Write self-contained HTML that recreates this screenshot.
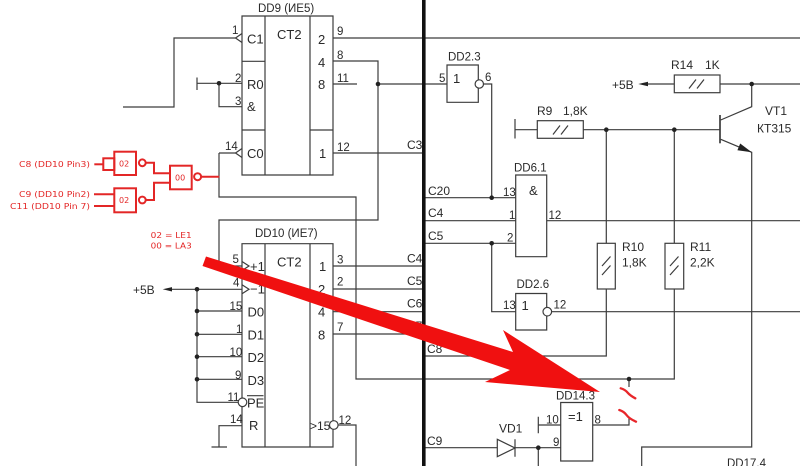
<!DOCTYPE html>
<html><head><meta charset="utf-8"><style>
html,body{margin:0;padding:0;background:#fff;}
svg{display:block;}
text{font-family:"Liberation Sans",sans-serif;fill:#2a2a2a;}
.p{font-size:11.5px;}
.l{font-size:12px;}
.i{font-size:13px;}
.r{font-family:"DejaVu Sans","Liberation Sans",sans-serif;font-size:8px;fill:#e32626;}
</style></head><body>
<svg width="800" height="466" viewBox="0 0 800 466" xmlns="http://www.w3.org/2000/svg">
<rect width="800" height="466" fill="#fff"/>
<g stroke="#3c3c3c" stroke-width="1.2" fill="none">
<!-- DD9 -->
<path d="M242,16H333V175H242Z M265,16V175 M310,16V175 M242,61.3H265 M242,130H265 M310,130H333"/>
<path d="M123,107H174V38H235.5 M235.5,38L242,33.5 M235.5,38L242,42.5"/>
<path d="M197,77.5V90 M197,83.3H242 M219,83.3V106.7H242"/>
<path d="M219,153H235.5 M235.5,153L242,148.5 M235.5,153L242,157.5"/>
<path d="M219,153V197H356V379H674.3V289"/>
<path d="M333,38H800"/>
<path d="M333,61H378V220H219V266H242"/>
<path d="M333,84H357 M378,84H447"/>
<path d="M333,153H422"/>
<!-- DD2.3 -->
<path d="M447,65H478.3V102.3H447Z"/>
<path d="M483.5,84H491.7V197.7"/>
<!-- DD6.1 -->
<path d="M515.7,175H546.7V256.7H515.7Z"/>
<path d="M425,197.7H515.7 M425,220.7H515.7 M546.7,220.7H800 M425,243.3H515.7 M491.7,243.3V311.7H515.7"/>
<!-- DD2.6 -->
<path d="M515.7,293.5H546.7V330H515.7Z"/>
<path d="M551.6,311.7H800"/>
<!-- R9 -->
<path d="M515,119V138.5 M515,129.7H537.3 M583.3,129.7H720"/>
<rect x="537.3" y="120.7" width="46" height="17.6"/>
<path d="M553,134.5L560,125.5 M561,134.5L568,125.5"/>
<!-- R14 -->
<path d="M645,84H674.3 M720,84H800"/>
<rect x="674.3" y="75" width="45.7" height="17.7"/>
<path d="M689,88.5L696,79.5 M697,88.5L704,79.5"/>
<!-- VT1 -->
<path d="M751.7,84V106.7L720.7,120"/>
<path d="M720,115V143.3" stroke-width="1.7"/>
<path d="M720.7,139.3L751.7,152.3V447H641.7V466"/>
<!-- R10 -->
<path d="M606.3,129.7V243.3 M606.3,289V356H425"/>
<rect x="597.3" y="243.3" width="18" height="45.7"/>
<path d="M602,266L610.5,256.5 M602,275L610.5,265.5"/>
<!-- R11 -->
<path d="M674.3,129.7V243.3"/>
<rect x="665" y="243.3" width="18.7" height="45.7"/>
<path d="M670,266L678.5,256.5 M670,275L678.5,265.5"/>
<path d="M629,379V387 M592.7,425H629V418"/>
<!-- DD14.3 -->
<path d="M560.7,402.5H592.7V461H560.7Z"/>
<path d="M538.3,416.7V433.3 M538.3,425H560.7"/>
<path d="M425,447.7H497.3 M515,447.7H560.7 M538.3,447.7V466"/>
<path d="M497.3,439.3L515,448L497.3,456.7Z M515,439.3V456.7"/>
<!-- DD10 -->
<path d="M242,243.7H333V447H242Z M265,243.7V447 M310,243.7V447"/>
<path d="M242,261.5L249,266L242,270.5"/>
<path d="M170,289.3H242 M242,284.8L249,289.3L242,293.8"/>
<path d="M197,311H242 M197,334.3H242 M197,356.7H242 M197,379.3H242 M197,289.3V402.3H238"/>
<path d="M242,425.7H219V447 M211.5,447H227"/>
<path d="M333,266H422 M333,289H422 M333,311.7H422 M333,334H422"/>
<path d="M338.1,425H356V466"/>
<path d="M247,395.7H263.5"/>
</g>
<g stroke="#3c3c3c" stroke-width="1.2" fill="#fff">
<circle cx="479.3" cy="84" r="4.2"/>
<circle cx="547.3" cy="311.7" r="4.3"/>
<circle cx="242.5" cy="402.3" r="4.3"/>
<circle cx="333.8" cy="425" r="4.3"/>
</g>
<g fill="#222">
<circle cx="219" cy="83.3" r="2.3"/><circle cx="378" cy="84" r="2.3"/>
<circle cx="491.7" cy="197.7" r="2.3"/><circle cx="491.7" cy="243.3" r="2.3"/>
<circle cx="606.3" cy="129.7" r="2.3"/><circle cx="674.3" cy="129.7" r="2.3"/>
<circle cx="751.7" cy="84" r="2.3"/><circle cx="197" cy="289.3" r="2.3"/>
<circle cx="197" cy="311" r="2.3"/><circle cx="197" cy="334.3" r="2.3"/>
<circle cx="197" cy="356.7" r="2.3"/><circle cx="197" cy="379.3" r="2.3"/>
<circle cx="629" cy="379" r="2.3"/><circle cx="538.3" cy="447.7" r="2.3"/>
<polygon points="162.7,289.3 172,287.1 172,291.5"/>
<polygon points="638.3,84 648,81.8 648,86.2"/>
<polygon points="751.7,152.3 737.4,150.3 740.2,143.5"/>
</g>
<rect x="422" y="0" width="3.6" height="466" fill="#111"/>
<!-- titles -->
<text class="p" x="258" y="12">DD9 (ИЕ5)</text>
<text class="p" x="255" y="237">DD10 (ИЕ7)</text>
<text class="p" x="448" y="60.5">DD2.3</text>
<text class="p" x="514" y="171.5">DD6.1</text>
<text class="p" x="516.5" y="288">DD2.6</text>
<text class="p" x="556" y="399.5">DD14.3</text>
<text class="p" x="727" y="467">DD17.4</text>
<!-- internal -->
<text class="i" x="277" y="39">CT2</text>
<text class="i" x="247" y="43.5">C1</text>
<text class="i" x="247" y="89">R0</text>
<text class="i" x="247" y="111">&amp;</text>
<text class="i" x="247" y="158">C0</text>
<text class="i" x="318" y="44">2</text>
<text class="i" x="318" y="67">4</text>
<text class="i" x="318" y="89">8</text>
<text class="i" x="319" y="158">1</text>
<text class="i" x="277" y="266.5">CT2</text>
<text class="i" x="250" y="271">+1</text>
<text class="i" x="250" y="293.5">−1</text>
<text class="i" x="247.5" y="316.5">D0</text>
<text class="i" x="247.5" y="339.5">D1</text>
<text class="i" x="247.5" y="362">D2</text>
<text class="i" x="247.5" y="385">D3</text>
<text class="i" x="247" y="407.5">PE</text>
<text class="i" x="249" y="430">R</text>
<text class="i" x="319" y="271">1</text>
<text class="i" x="318" y="294">2</text>
<text class="i" x="318" y="316.5">4</text>
<text class="i" x="318" y="339.5">8</text>
<text class="l" x="310" y="430">&gt;15</text>
<text class="i" x="453" y="83">1</text>
<text class="i" x="529" y="195">&amp;</text>
<text class="i" x="521.5" y="310">1</text>
<text class="i" x="568" y="421">=1</text>
<!-- pin numbers -->
<text class="p" x="232" y="34">1</text>
<text class="p" x="235" y="82">2</text>
<text class="p" x="235" y="105">3</text>
<text class="p" x="225" y="150">14</text>
<text class="p" x="337" y="35">9</text>
<text class="p" x="337" y="59">8</text>
<text class="p" x="337" y="82">11</text>
<text class="p" x="337" y="151">12</text>
<text class="p" x="439" y="82">5</text>
<text class="p" x="485" y="81">6</text>
<text class="p" x="503" y="196">13</text>
<text class="p" x="509" y="219">1</text>
<text class="p" x="507" y="241.5">2</text>
<text class="p" x="548.5" y="219">12</text>
<text class="p" x="503" y="309">13</text>
<text class="p" x="553.5" y="308.5">12</text>
<text class="p" x="232.5" y="263">5</text>
<text class="p" x="233" y="286.5">4</text>
<text class="p" x="229.5" y="310">15</text>
<text class="p" x="236" y="333">1</text>
<text class="p" x="229.5" y="356">10</text>
<text class="p" x="235" y="379">9</text>
<text class="p" x="227.5" y="401">11</text>
<text class="p" x="230" y="423">14</text>
<text class="p" x="337" y="263.5">3</text>
<text class="p" x="337" y="285.5">2</text>
<text class="p" x="337" y="308">6</text>
<text class="p" x="337" y="331">7</text>
<text class="p" x="338.5" y="424">12</text>
<text class="p" x="546" y="423.5">10</text>
<text class="p" x="553" y="446">9</text>
<text class="p" x="594.5" y="423.5">8</text>
<!-- bus labels -->
<text class="l" x="407" y="149">C3</text>
<text class="l" x="407" y="262.5">C4</text>
<text class="l" x="407" y="285">C5</text>
<text class="l" x="407" y="307.5">C6</text>
<text class="l" x="407" y="330">C7</text>
<text class="l" x="428" y="195">C20</text>
<text class="l" x="428" y="217">C4</text>
<text class="l" x="428" y="240">C5</text>
<text class="l" x="427" y="353">C8</text>
<text class="l" x="427" y="445">C9</text>
<!-- component labels -->
<text class="l" x="133" y="294">+5В</text>
<text class="l" x="612" y="89">+5В</text>
<text class="l" x="671" y="69">R14</text>
<text class="l" x="705" y="69">1K</text>
<text class="l" x="537" y="115">R9</text>
<text class="l" x="563" y="115">1,8K</text>
<text class="l" x="765" y="115">VT1</text>
<text class="l" x="757" y="132.5">КТ315</text>
<text class="l" x="622" y="251">R10</text>
<text class="l" x="622" y="266.5">1,8K</text>
<text class="l" x="690" y="251">R11</text>
<text class="l" x="690" y="266.5">2,2K</text>
<text class="l" x="499" y="432.5">VD1</text>
<!-- red additions -->
<g stroke="#e32626" stroke-width="2" fill="none">
<path d="M94.3,164.3H103.3"/>
<rect x="103.3" y="158.3" width="11" height="11.7"/>
<rect x="114.3" y="151.7" width="21.7" height="23.3"/>
<circle cx="142.3" cy="162.8" r="3.4"/>
<path d="M145.7,162.8H154V173.3H170"/>
<rect x="114.3" y="188.3" width="21.7" height="24"/>
<path d="M94,194.3H114.3 M94,206H114.3"/>
<circle cx="142.3" cy="200" r="3.4"/>
<path d="M145.7,200H154V182.7H170"/>
<rect x="170" y="165.7" width="21.7" height="23.6"/>
<circle cx="197.6" cy="176.7" r="3.5"/>
<path d="M201.1,176.7H219.3"/>
</g>
<text class="r" x="119" y="166.5">02</text>
<text class="r" x="119" y="203">02</text>
<text class="r" x="175" y="180.5">00</text>
<text class="r" x="19" y="167.2" textLength="71" lengthAdjust="spacingAndGlyphs">C8 (DD10 Pin3)</text>
<text class="r" x="19" y="197.2" textLength="71" lengthAdjust="spacingAndGlyphs">C9 (DD10 Pin2)</text>
<text class="r" x="10" y="209" textLength="80" lengthAdjust="spacingAndGlyphs">C11 (DD10 Pin 7)</text>
<text class="r" x="150.7" y="238" textLength="41" lengthAdjust="spacingAndGlyphs">02 = LE1</text>
<text class="r" x="150.7" y="248.7" textLength="41" lengthAdjust="spacingAndGlyphs">00 = LA3</text>
<g stroke="#e8262a" stroke-width="2.3" fill="none" stroke-linecap="round">
<path d="M620.7,388.3Q625,389.5 627.5,392.5T635.3,398.3"/>
<path d="M619.3,410Q624,411.5 626.5,415T636,421.7"/>
</g>
<polygon points="206,256.5 513,352 503,330 600,392 485,382 510,370 202.5,266" fill="#f01010"/>
</svg>
</body></html>
